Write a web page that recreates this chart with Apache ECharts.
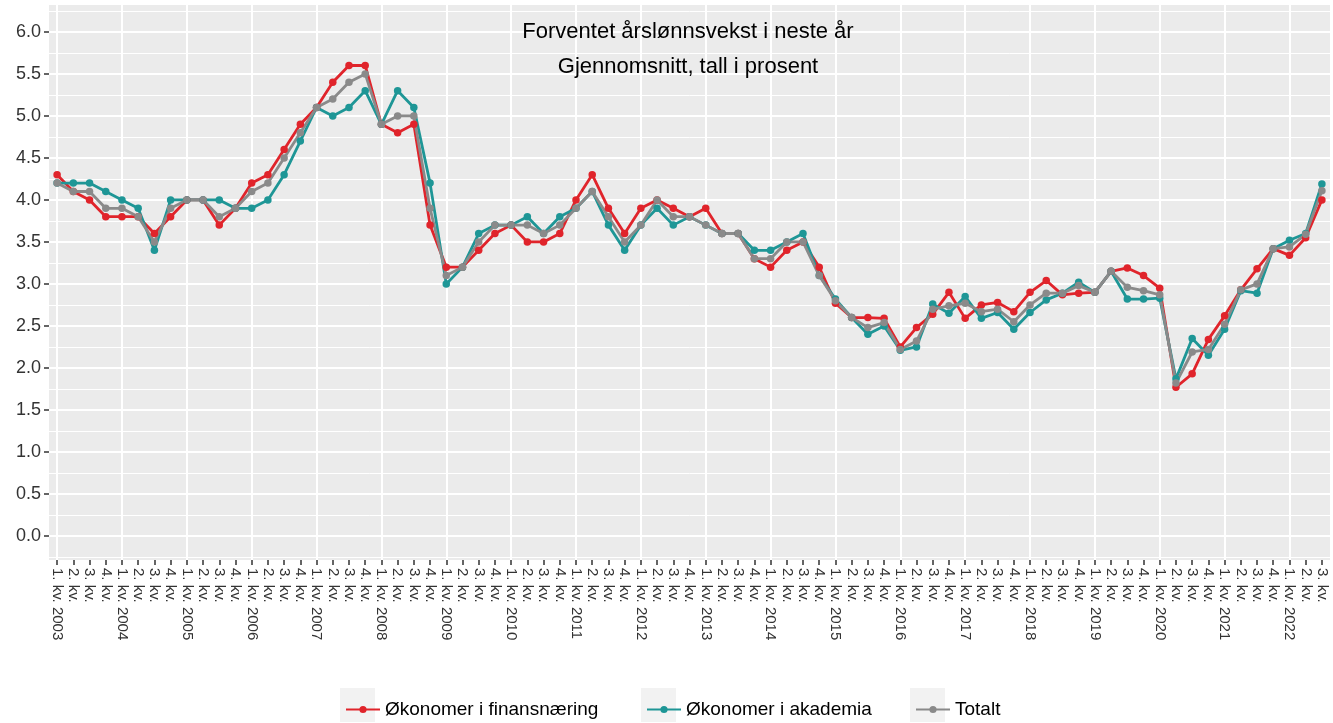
<!DOCTYPE html>
<html>
<head>
<meta charset="utf-8">
<title>Forventet årslønnsvekst</title>
<script src="https://cdn.jsdelivr.net/npm/echarts@6/dist/echarts.min.js"></script>
<style>
html, body { margin: 0; padding: 0; background: #fff; }
#chart { width: 1333px; height: 723px; }
</style>
</head>
<body>
<div id="chart"></div>
<script>
// kvartaler 2003 Q1 - 2022 Q3
var years = [2003, 2004, 2005, 2006, 2007, 2008, 2009, 2010, 2011, 2012,
    2013, 2014, 2015, 2016, 2017, 2018, 2019, 2020, 2021, 2022];
var quarters = [];
years.forEach(function (y) {
    for (var q = 1; q <= 4; q++) {
        if (y === 2022 && q === 4) break;
        quarters.push(q === 1 ? q + '. kv. ' + y : q + '. kv.');
    }
});

var finans = [4.3, 4.1, 4.0, 3.8, 3.8, 3.8, 3.6, 3.8, 4.0, 4.0, 3.7, 3.9,
    4.2, 4.3, 4.6, 4.9, 5.1, 5.4, 5.6, 5.6, 4.9, 4.8, 4.9, 3.7,
    3.2, 3.2, 3.4, 3.6, 3.7, 3.5, 3.5, 3.6, 4.0, 4.3, 3.9, 3.6,
    3.9, 4.0, 3.9, 3.8, 3.9, 3.6, 3.6, 3.3, 3.2, 3.4, 3.5, 3.2,
    2.77, 2.6, 2.6, 2.59, 2.25, 2.48, 2.64, 2.9, 2.59, 2.75, 2.78, 2.67,
    2.9, 3.04, 2.87, 2.89, 2.9, 3.15, 3.19, 3.1, 2.95, 1.77, 1.93, 2.34,
    2.62, 2.93, 3.18, 3.42, 3.34, 3.55, 4.0];
var akademia = [4.2, 4.2, 4.2, 4.1, 4.0, 3.9, 3.4, 4.0, 4.0, 4.0, 4.0, 3.9,
    3.9, 4.0, 4.3, 4.7, 5.1, 5.0, 5.1, 5.3, 4.9, 5.3, 5.1, 4.2,
    3.0, 3.2, 3.6, 3.7, 3.7, 3.8, 3.6, 3.8, 3.9, 4.1, 3.7, 3.4,
    3.7, 3.9, 3.7, 3.8, 3.7, 3.6, 3.6, 3.4, 3.4, 3.5, 3.6, 3.1,
    2.82, 2.6, 2.4, 2.5, 2.21, 2.25, 2.76, 2.65, 2.85, 2.59, 2.66, 2.46,
    2.66, 2.81, 2.89, 3.02, 2.9, 3.15, 2.82, 2.82, 2.83, 1.87, 2.35, 2.15,
    2.46, 2.92, 2.89, 3.42, 3.52, 3.6, 4.19];
var totalt = [4.2, 4.1, 4.1, 3.9, 3.9, 3.8, 3.5, 3.9, 4.0, 4.0, 3.8, 3.9,
    4.1, 4.2, 4.5, 4.8, 5.1, 5.2, 5.4, 5.5, 4.9, 5.0, 5.0, 3.9,
    3.1, 3.2, 3.5, 3.7, 3.7, 3.7, 3.6, 3.7, 3.9, 4.1, 3.8, 3.5,
    3.7, 4.0, 3.8, 3.8, 3.7, 3.6, 3.6, 3.3, 3.3, 3.5, 3.5, 3.1,
    2.8, 2.6, 2.48, 2.54, 2.22, 2.32, 2.7, 2.74, 2.77, 2.67, 2.7, 2.55,
    2.75, 2.89, 2.89, 2.98, 2.9, 3.15, 2.96, 2.92, 2.87, 1.82, 2.19, 2.22,
    2.52, 2.93, 3.0, 3.42, 3.44, 3.59, 4.11];

var yTicks = [0, 0.5, 1, 1.5, 2, 2.5, 3, 3.5, 4, 4.5, 5, 5.5, 6];
var yMinor = [-0.25, 0.25, 0.75, 1.25, 1.75, 2.25, 2.75, 3.25, 3.75, 4.25, 4.75, 5.25, 5.75, 6.25];
var xGrid = quarters.filter(function (q, i) { return i % 4 === 0; });

var names = ['Økonomer i finansnæring', 'Økonomer i akademia', 'Totalt'];
var colors = ['#E0242B', '#1E9696', '#8A8A8A'];

var gridLines = [];
yMinor.forEach(function (v) {
    gridLines.push({ yAxis: v, lineStyle: { width: 1 } });
});
yTicks.forEach(function (v) {
    gridLines.push({ yAxis: v, lineStyle: { width: 2 } });
});
xGrid.forEach(function (c) {
    gridLines.push({ xAxis: c, lineStyle: { width: 2 } });
});

var chart = echarts.init(document.getElementById('chart'));

function lineSeries(name, data, color) {
    return {
        name: name,
        type: 'line',
        data: data,
        z: 3,
        symbol: 'circle',
        symbolSize: 7.5,
        showAllSymbol: true,
        lineStyle: { width: 2.8, color: color },
        itemStyle: { color: color },
        emphasis: { disabled: true }
    };
}

function legendAt(name, left) {
    return {
        data: [name],
        left: left,
        top: 700,
        padding: 0,
        itemWidth: 34,
        itemHeight: 9,
        itemGap: 0,
        textStyle: { fontFamily: 'Liberation Sans, Arial', fontSize: 19, color: '#000' }
    };
}

chart.setOption({
    animation: false,
    color: colors,
    title: {
        text: 'Forventet årslønnsvekst i neste år\nGjennomsnitt, tall i prosent',
        left: 688,
        top: 14,
        padding: 0,
        textAlign: 'center',
        textStyle: {
            fontFamily: 'Liberation Sans, Arial',
            fontSize: 22,
            fontWeight: 'normal',
            color: '#000',
            lineHeight: 35
        }
    },
    legend: [
        legendAt(names[0], 345),
        legendAt(names[1], 646),
        legendAt(names[2], 915)
    ],
    graphic: [
        { type: 'rect', shape: { x: 340, y: 688, width: 35, height: 34 }, style: { fill: '#F2F2F2' }, z: -1 },
        { type: 'rect', shape: { x: 641, y: 688, width: 35, height: 34 }, style: { fill: '#F2F2F2' }, z: -1 },
        { type: 'rect', shape: { x: 910, y: 688, width: 35, height: 34 }, style: { fill: '#F2F2F2' }, z: -1 }
    ],
    grid: {
        left: 49,
        right: 3,
        top: 5,
        bottom: 163,
        show: true,
        backgroundColor: '#EBEBEB',
        borderWidth: 0
    },
    xAxis: {
        type: 'category',
        data: quarters,
        boundaryGap: true,
        axisLine: { show: false, onZero: false },
        axisTick: { show: true, interval: 0, alignWithLabel: true, length: 5, lineStyle: { color: '#333', width: 1.5 } },
        axisLabel: {
            interval: 0,
            rotate: -90,
            margin: 8,
            fontFamily: 'Liberation Sans, Arial',
            fontSize: 15,
            color: '#333'
        },
        splitLine: { show: false }
    },
    yAxis: {
        type: 'value',
        min: -0.286,
        max: 6.32,
        axisLine: { show: false },
        axisTick: { show: true, customValues: yTicks, length: 5, lineStyle: { color: '#333', width: 1.5 } },
        axisLabel: {
            customValues: yTicks,
            margin: 8,
            fontFamily: 'Liberation Sans, Arial',
            fontSize: 18,
            color: '#333',
            formatter: function (v) { return v.toFixed(1); }
        },
        splitLine: { show: false }
    },
    series: [
        {
            name: 'grid',
            type: 'line',
            data: [],
            z: 1,
            silent: true,
            markLine: {
                silent: true,
                z: 1,
                symbol: 'none',
                label: { show: false },
                lineStyle: { color: '#FFFFFF', type: 'solid' },
                emphasis: { disabled: true },
                data: gridLines
            }
        },
        lineSeries(names[0], finans, colors[0]),
        lineSeries(names[1], akademia, colors[1]),
        lineSeries(names[2], totalt, colors[2])
    ]
});
</script>
</body>
</html>
